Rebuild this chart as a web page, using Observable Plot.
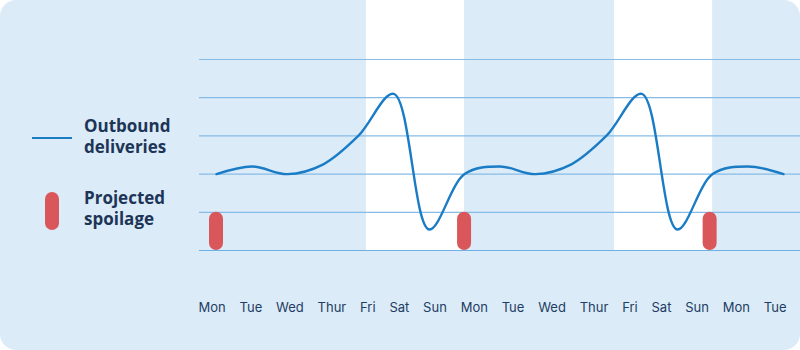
<!DOCTYPE html>
<html>
<head>
<meta charset="utf-8">
<script src="https://cdn.jsdelivr.net/npm/d3@7"></script>
<script src="https://cdn.jsdelivr.net/npm/@observablehq/plot@0.6"></script>
<style>
  html, body { margin: 0; padding: 0; background: #ffffff; }
  #card {
    position: relative; width: 800px; height: 350px; overflow: hidden;
    background: #dcebf8; border-radius: 16px;
    font-family: Inter, "Noto Sans", sans-serif;
  }
  #main, #axis { position: absolute; left: 0; }
  #main { top: 0; }
  #axis { top: 290px; }
  .leg { position: absolute; color: #1c3557; font-family: "Open Sans", sans-serif; font-weight: 700; font-size: 17px; line-height: 21px; }
  .swatch-line { position: absolute; left: 32px; top: 137px; width: 40px; height: 2px; background: #1b7cc6; }
  .swatch-pill { position: absolute; left: 45px; top: 192px; width: 14px; height: 38px; border-radius: 7px; background: #d9575a; }
</style>
</head>
<body>
<div id="card">
  <div id="main"></div>
  <div id="axis"></div>
  <div class="swatch-line"></div>
  <div class="leg" style="left:84px; top:115px;">Outbound<br>deliveries</div>
  <div class="swatch-pill"></div>
  <div class="leg" style="left:84px; top:187px;">Projected<br>spoilage</div>
</div>
<script>
// Daily outbound deliveries (index = day from first Monday)
const deliveryDay = [0, 1, 2, 3, 4, 5, 6, 7, 8, 9, 10, 11, 12, 13, 14, 15, 16];
const deliveryValue = [2, 2.2, 2, 2.25, 3, 4.1, 0.55, 2, 2.2, 2, 2.25, 3, 4.1, 0.55, 2, 2.2, 2];

// Projected spoilage markers (day index, value)
const spoilageDay = [0, 7, 13.93];
const spoilageValue = [1, 1, 1];

// Weekend shading (day index start / end)
const weekendStart = [4.23, 11.23];
const weekendEnd = [7, 14];

// Axis labels
const dayLabels = ["Mon", "Tue", "Wed", "Thur", "Fri", "Sat", "Sun", "Mon", "Tue", "Wed", "Thur", "Fri", "Sat", "Sun", "Mon", "Tue"];

const gridValues = [0, 1, 2, 3, 4, 5];

const line = deliveryDay.map((d, i) => ({day: d, value: deliveryValue[i]}));
const spoil = spoilageDay.map((d, i) => ({day: d, value: spoilageValue[i]}));
const weekends = weekendStart.map((s, i) => ({x1: s, x2: weekendEnd[i]}));

const main = Plot.plot({
  width: 800, height: 350,
  marginLeft: 199, marginRight: 0, marginTop: 0, marginBottom: 100,
  style: {background: "transparent", overflow: "visible"},
  x: {domain: [-0.48, 16.48], axis: null},
  y: {domain: [0, 6.545], axis: null},
  marks: [
    Plot.rect(weekends, {x1: "x1", x2: "x2", fill: "#ffffff"}),
    Plot.ruleY(gridValues, {stroke: d => d === 0 ? "#6fb0e6" : "#86bbe6", strokeWidth: 1.2}),
    Plot.line(line, {x: "day", y: "value", curve: "catmull-rom", stroke: "#1b7cc6", strokeWidth: 2.4}),
    Plot.rect(spoil, {x1: "day", x2: "day", y1: () => 0, y2: "value", insetLeft: -7, insetRight: -7, rx: 7, fill: "#d9575a"})
  ]
});
document.getElementById("main").appendChild(main);

// Labels laid out with equal gaps between them (space-between), like the reference
const tickFont = "13px Inter";
const ctx = document.createElement("canvas").getContext("2d");
ctx.font = tickFont;
const widths = dayLabels.map(t => ctx.measureText(t).width);
const rowLeft = 198, rowRight = 786;
const gap = (rowRight - rowLeft - d3.sum(widths)) / (dayLabels.length - 1);
const centers = [];
let cursor = rowLeft;
widths.forEach(w => { centers.push(cursor + w / 2); cursor += w + gap; });

const axis = Plot.plot({
  width: 800, height: 30,
  marginLeft: 0, marginRight: 0, marginTop: 0, marginBottom: 0,
  style: {background: "transparent", overflow: "visible", fontSize: "13px", color: "#2a4468", fontFamily: "Inter, 'Noto Sans', sans-serif"},
  x: {domain: [0, 800]},
  marks: [
    Plot.axisX({anchor: "top", ticks: centers, tickSize: 0, tickPadding: 0, tickFormat: (d, i) => dayLabels[i], dy: 21, fill: "#223d63"})
  ]
});
document.getElementById("axis").appendChild(axis);
</script>
</body>
</html>
